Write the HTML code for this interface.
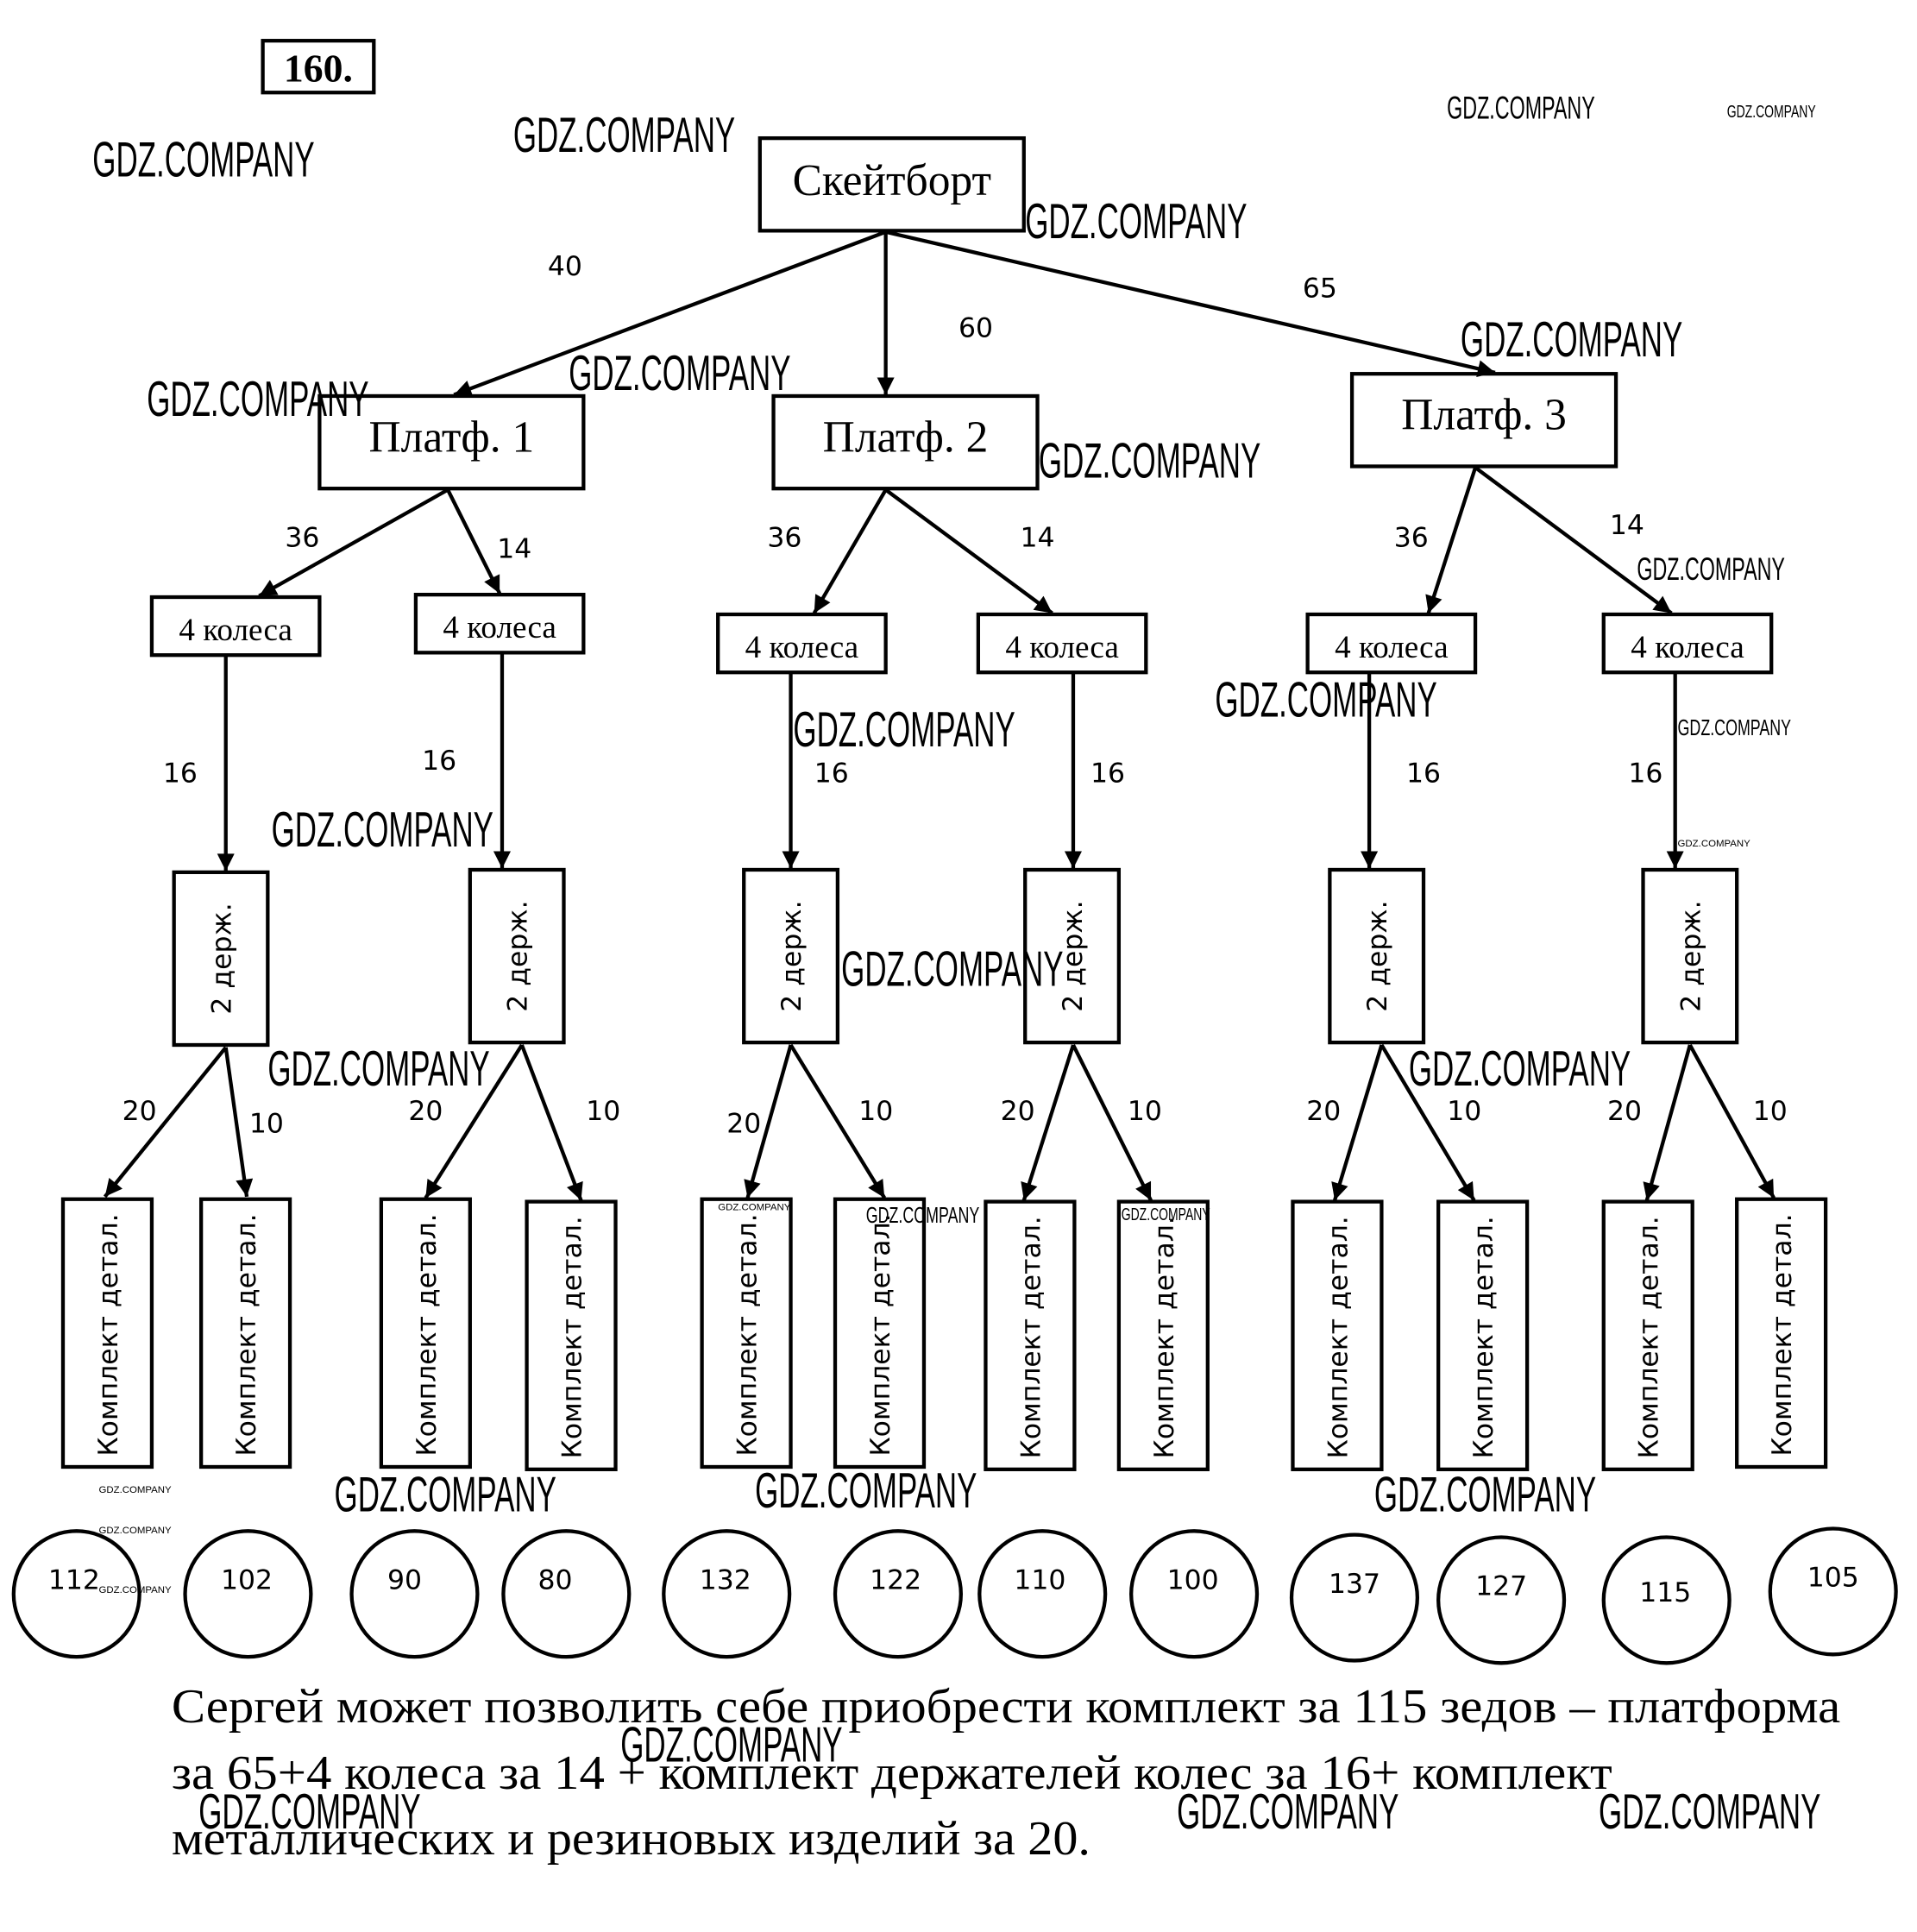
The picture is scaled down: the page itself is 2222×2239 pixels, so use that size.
<!DOCTYPE html>
<html><head><meta charset="utf-8"><style>
html,body{margin:0;padding:0;background:#fff;}
svg{display:block;}
.s{font-family:"Liberation Serif",serif;}
.n{font-family:"DejaVu Sans","Liberation Sans",sans-serif;font-size:22px;}
.w{font-family:"Liberation Sans",sans-serif;font-weight:300;}
</style></head><body>
<svg width="2222" height="2239" viewBox="0 0 1554 1566" xmlns="http://www.w3.org/2000/svg">
<defs>
<marker id="b" viewBox="0 0 10 10" markerWidth="16" markerHeight="14" refX="10" refY="5" orient="auto" markerUnits="userSpaceOnUse"><path d="M0,0 L10,5 L0,10 z" fill="#000"/></marker></defs>
<rect width="1554" height="1566" fill="#fff"/>
<g fill="none" stroke="#000" stroke-width="3">
<rect x="213" y="33" width="90" height="42"/>
<rect x="616" y="112" width="214" height="75"/>
<rect x="259" y="321" width="214" height="75"/>
<rect x="627" y="321" width="214" height="75"/>
<rect x="1096" y="303" width="214" height="75"/>
<rect x="123" y="484" width="136" height="47"/>
<rect x="337" y="482" width="136" height="47"/>
<rect x="582" y="498" width="136" height="47"/>
<rect x="793" y="498" width="136" height="47"/>
<rect x="1060" y="498" width="136" height="47"/>
<rect x="1300" y="498" width="136" height="47"/>
<rect x="141" y="707" width="76" height="140"/>
<rect x="381" y="705" width="76" height="140"/>
<rect x="603" y="705" width="76" height="140"/>
<rect x="831" y="705" width="76" height="140"/>
<rect x="1078" y="705" width="76" height="140"/>
<rect x="1332" y="705" width="76" height="140"/>
<rect x="51" y="972" width="72" height="217"/>
<rect x="163" y="972" width="72" height="217"/>
<rect x="309" y="972" width="72" height="217"/>
<rect x="427" y="974" width="72" height="217"/>
<rect x="569" y="972" width="72" height="217"/>
<rect x="677" y="972" width="72" height="217"/>
<rect x="799" y="974" width="72" height="217"/>
<rect x="907" y="974" width="72" height="217"/>
<rect x="1048" y="974" width="72" height="217"/>
<rect x="1166" y="974" width="72" height="217"/>
<rect x="1300" y="974" width="72" height="217"/>
<rect x="1408" y="972" width="72" height="217"/>
</g>
<g stroke="#000" stroke-width="3" marker-end="url(#b)">
<line x1="718" y1="188" x2="368" y2="320"/>
<line x1="718" y1="188" x2="718" y2="320"/>
<line x1="718" y1="188" x2="1212" y2="302"/>
<line x1="363" y1="397" x2="210" y2="483"/>
<line x1="363" y1="397" x2="405" y2="481"/>
<line x1="718" y1="397" x2="660" y2="497"/>
<line x1="718" y1="397" x2="853" y2="497"/>
<line x1="1196" y1="379" x2="1158" y2="497"/>
<line x1="1196" y1="379" x2="1355" y2="497"/>
<line x1="183" y1="532" x2="183" y2="706"/>
<line x1="407" y1="530" x2="407" y2="704"/>
<line x1="641" y1="546" x2="641" y2="704"/>
<line x1="870" y1="546" x2="870" y2="704"/>
<line x1="1110" y1="546" x2="1110" y2="704"/>
<line x1="1358" y1="546" x2="1358" y2="704"/>
<line x1="183" y1="849" x2="85" y2="970"/>
<line x1="183" y1="849" x2="200" y2="970"/>
<line x1="423" y1="847" x2="345" y2="971"/>
<line x1="423" y1="847" x2="471" y2="973"/>
<line x1="641" y1="847" x2="606" y2="971"/>
<line x1="641" y1="847" x2="717" y2="971"/>
<line x1="870" y1="847" x2="830" y2="973"/>
<line x1="870" y1="847" x2="933" y2="973"/>
<line x1="1120" y1="847" x2="1082" y2="973"/>
<line x1="1120" y1="847" x2="1195" y2="973"/>
<line x1="1370" y1="847" x2="1335" y2="973"/>
<line x1="1370" y1="847" x2="1438" y2="971"/>
</g>
<g fill="none" stroke="#000" stroke-width="3">
<circle cx="62" cy="1292" r="51"/><circle cx="201" cy="1292" r="51"/><circle cx="336" cy="1292" r="51"/><circle cx="459" cy="1292" r="51"/><circle cx="589" cy="1292" r="51"/><circle cx="728" cy="1292" r="51"/><circle cx="845" cy="1292" r="51"/><circle cx="968" cy="1292" r="51"/><circle cx="1098" cy="1295" r="51"/><circle cx="1217" cy="1297" r="51"/><circle cx="1351" cy="1297" r="51"/><circle cx="1486" cy="1290" r="51"/>
</g>
<text class="s" x="258" y="66" font-size="32" font-weight="bold" text-anchor="middle">160.</text>
<g class="s" text-anchor="middle">
<text x="723" y="158" font-size="36">Скейтборт</text>
<text x="366" y="366" font-size="36">Платф. 1</text>
<text x="734" y="366" font-size="36">Платф. 2</text>
<text x="1203" y="348" font-size="36">Платф. 3</text>
<text x="191" y="519" font-size="26">4 колеса</text>
<text x="405" y="517" font-size="26">4 колеса</text>
<text x="650" y="533" font-size="26">4 колеса</text>
<text x="861" y="533" font-size="26">4 колеса</text>
<text x="1128" y="533" font-size="26">4 колеса</text>
<text x="1368" y="533" font-size="26">4 колеса</text>
</g>
<g class="n" text-anchor="middle">
<text x="458" y="223">40</text><text x="791" y="273">60</text><text x="1070" y="241">65</text>
<text x="245" y="443">36</text><text x="417" y="452">14</text>
<text x="636" y="443">36</text><text x="841" y="443">14</text>
<text x="1144" y="443">36</text><text x="1319" y="433">14</text>
<text x="146" y="634">16</text><text x="356" y="624">16</text><text x="674" y="634">16</text><text x="898" y="634">16</text><text x="1154" y="634">16</text><text x="1334" y="634">16</text>
<text x="113" y="908">20</text><text x="216" y="918">10</text>
<text x="345" y="908">20</text><text x="489" y="908">10</text>
<text x="603" y="918">20</text><text x="710" y="908">10</text>
<text x="825" y="908">20</text><text x="928" y="908">10</text>
<text x="1073" y="908">20</text><text x="1187" y="908">10</text>
<text x="1317" y="908">20</text><text x="1435" y="908">10</text>
<text x="60" y="1288">112</text><text x="200" y="1288">102</text><text x="328" y="1288">90</text><text x="450" y="1288">80</text><text x="588" y="1288">132</text><text x="726" y="1288">122</text><text x="843" y="1288">110</text><text x="967" y="1288">100</text><text x="1098" y="1291">137</text><text x="1217" y="1293">127</text><text x="1350" y="1298">115</text><text x="1486" y="1286">105</text>
</g>
<g class="n" text-anchor="middle">
<text transform="translate(187,777) rotate(-90)">2 держ.</text>
<text transform="translate(427,775) rotate(-90)">2 держ.</text>
<text transform="translate(649,775) rotate(-90)">2 держ.</text>
<text transform="translate(877,775) rotate(-90)">2 держ.</text>
<text transform="translate(1124,775) rotate(-90)">2 держ.</text>
<text transform="translate(1378,775) rotate(-90)">2 держ.</text>
<text transform="translate(95,1082) rotate(-90)">Комплект детал.</text>
<text transform="translate(207,1082) rotate(-90)">Комплект детал.</text>
<text transform="translate(353,1082) rotate(-90)">Комплект детал.</text>
<text transform="translate(471,1084) rotate(-90)">Комплект детал.</text>
<text transform="translate(613,1082) rotate(-90)">Комплект детал.</text>
<text transform="translate(721,1082) rotate(-90)">Комплект детал.</text>
<text transform="translate(843,1084) rotate(-90)">Комплект детал.</text>
<text transform="translate(951,1084) rotate(-90)">Комплект детал.</text>
<text transform="translate(1092,1084) rotate(-90)">Комплект детал.</text>
<text transform="translate(1210,1084) rotate(-90)">Комплект детал.</text>
<text transform="translate(1344,1084) rotate(-90)">Комплект детал.</text>
<text transform="translate(1452,1082) rotate(-90)">Комплект детал.</text>
</g>
<g class="s" font-size="39">
<text x="139" y="1396" textLength="1353" lengthAdjust="spacingAndGlyphs">Сергей может позволить себе приобрести комплект за 115 зедов – платформа</text>
<text x="139" y="1450" textLength="1168" lengthAdjust="spacingAndGlyphs">за 65+4 колеса за 14 + комплект держателей колес за 16+ комплект</text>
<text x="139" y="1503" textLength="745" lengthAdjust="spacingAndGlyphs">металлических и резиновых изделий за 20.</text>
</g>
<g class="w" font-size="40">
<text x="75" y="143" textLength="180" lengthAdjust="spacingAndGlyphs">GDZ.COMPANY</text>
<text x="416" y="123" textLength="180" lengthAdjust="spacingAndGlyphs">GDZ.COMPANY</text>
<text x="831" y="193" textLength="180" lengthAdjust="spacingAndGlyphs">GDZ.COMPANY</text>
<text x="1184" y="289" textLength="180" lengthAdjust="spacingAndGlyphs">GDZ.COMPANY</text>
<text x="119" y="337" textLength="180" lengthAdjust="spacingAndGlyphs">GDZ.COMPANY</text>
<text x="461" y="316" textLength="180" lengthAdjust="spacingAndGlyphs">GDZ.COMPANY</text>
<text x="842" y="387" textLength="180" lengthAdjust="spacingAndGlyphs">GDZ.COMPANY</text>
<text x="985" y="581" textLength="180" lengthAdjust="spacingAndGlyphs">GDZ.COMPANY</text>
<text x="643" y="605" textLength="180" lengthAdjust="spacingAndGlyphs">GDZ.COMPANY</text>
<text x="220" y="686" textLength="180" lengthAdjust="spacingAndGlyphs">GDZ.COMPANY</text>
<text x="682" y="799" textLength="180" lengthAdjust="spacingAndGlyphs">GDZ.COMPANY</text>
<text x="217" y="880" textLength="180" lengthAdjust="spacingAndGlyphs">GDZ.COMPANY</text>
<text x="1142" y="880" textLength="180" lengthAdjust="spacingAndGlyphs">GDZ.COMPANY</text>
<text x="271" y="1225" textLength="180" lengthAdjust="spacingAndGlyphs">GDZ.COMPANY</text>
<text x="612" y="1222" textLength="180" lengthAdjust="spacingAndGlyphs">GDZ.COMPANY</text>
<text x="1114" y="1225" textLength="180" lengthAdjust="spacingAndGlyphs">GDZ.COMPANY</text>
<text x="503" y="1428" textLength="180" lengthAdjust="spacingAndGlyphs">GDZ.COMPANY</text>
<text x="161" y="1482" textLength="180" lengthAdjust="spacingAndGlyphs">GDZ.COMPANY</text>
<text x="954" y="1482" textLength="180" lengthAdjust="spacingAndGlyphs">GDZ.COMPANY</text>
<text x="1296" y="1482" textLength="180" lengthAdjust="spacingAndGlyphs">GDZ.COMPANY</text>
</g>
<g class="w" font-size="26">
<text x="1173" y="96" textLength="120" lengthAdjust="spacingAndGlyphs">GDZ.COMPANY</text>
<text x="1327" y="470" textLength="120" lengthAdjust="spacingAndGlyphs">GDZ.COMPANY</text>
</g>
<g class="w" font-size="18">
<text x="1360" y="596" textLength="92" lengthAdjust="spacingAndGlyphs">GDZ.COMPANY</text>
<text x="702" y="991" textLength="92" lengthAdjust="spacingAndGlyphs">GDZ.COMPANY</text>
</g>
<g class="w" font-size="14">
<text x="1400" y="95" textLength="72" lengthAdjust="spacingAndGlyphs">GDZ.COMPANY</text>
<text x="909" y="989" textLength="72" lengthAdjust="spacingAndGlyphs">GDZ.COMPANY</text>
</g>
<g class="w" font-size="8">
<text x="1360" y="686">GDZ.COMPANY</text>
<text x="582" y="981">GDZ.COMPANY</text>
<text x="80" y="1210">GDZ.COMPANY</text>
<text x="80" y="1243">GDZ.COMPANY</text>
<text x="80" y="1291">GDZ.COMPANY</text>
</g>
</svg>
</body></html>
